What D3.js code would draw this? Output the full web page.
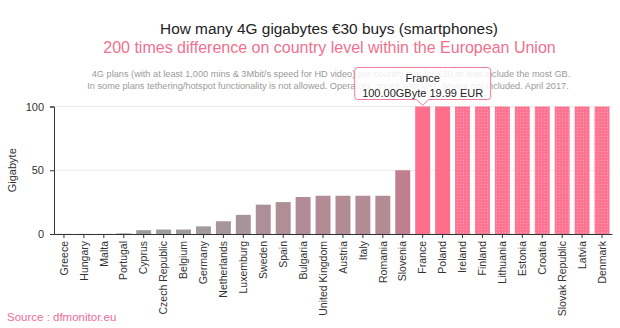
<!DOCTYPE html>
<html>
<head>
<meta charset="utf-8">
<script src="https://cdn.jsdelivr.net/npm/d3@7/dist/d3.min.js"></script>
<style>
  html, body { margin: 0; padding: 0; background: #fff; }
  svg { display: block; font-family: "Liberation Sans", Arial, sans-serif; }
</style>
</head>
<body>
<svg id="chart" width="620" height="328"></svg>
<script>
const countries = ["Greece","Hungary","Malta","Portugal","Cyprus","Czech Republic","Belgium","Germany","Netherlands","Luxemburg","Sweden","Spain","Bulgaria","United Kingdom","Austria","Italy","Romania","Slovenia","France","Poland","Ireland","Finland","Lithuania","Estonia","Croatia","Slovak Republic","Latvia","Denmark"];
const gigabytes = [0.1,0.1,0.1,0.5,3,3.5,3.5,6,10,15,23,25,29,30,30,30,30,50,100,100,100,100,100,100,100,100,100,100];
const dotted = ["Ireland","Finland","Lithuania","Estonia","Croatia","Slovak Republic","Latvia","Denmark"];
const yTicks = [0, 50, 100];
const tooltipCountry = "France";
const tooltipText = ["France", "100.00GByte 19.99 EUR"];
const title = "How many 4G gigabytes €30 buys (smartphones)";
const subtitle = "200 times difference on country level within the European Union";
const notes = [
  "4G plans (with at least 1,000 mins & 3Mbit/s speed for HD video) per country that for €30 or less include the most GB.",
  "In some plans tethering/hotspot functionality is not allowed. Operators' prices with VAT, device not included. April 2017."
];
const source = "Source : dfmonitor.eu";

const data = countries.map((c, i) => ({ country: c, value: gigabytes[i] }));

const svg = d3.select("#chart");
const plotL = 54, plotR = 612, plotT = 106.5, plotB = 234;

const x = d3.scaleBand().domain(countries).range([plotL, plotR]).paddingInner(0.25).paddingOuter(0.125);
const y = d3.scaleLinear().domain([0, 100]).range([plotB, plotT]);
const color = d3.scaleLinear().domain([0, 50, 100]).range(["#9e9c9e", "#bf7f8e", "#ff6f8c"]);

// pattern
const defs = svg.append("defs");
const pat = defs.append("pattern").attr("id", "dots").attr("patternUnits", "userSpaceOnUse")
  .attr("width", 3).attr("height", 3);
pat.append("rect").attr("width", 3).attr("height", 3).attr("fill", "#ff7290");
pat.append("circle").attr("cx", 1.5).attr("cy", 1.5).attr("r", 0.7).attr("fill", "rgba(255,180,198,0.6)");

// titles
svg.append("text").attr("x", 329).attr("y", 34).attr("text-anchor", "middle")
  .attr("font-size", 15.4).attr("fill", "#222").text(title);
svg.append("text").attr("x", 329.5).attr("y", 53).attr("text-anchor", "middle")
  .attr("font-size", 16).attr("fill", "#f0718f").text(subtitle);
const noteX = [331, 328];
notes.forEach((n, i) => {
  svg.append("text").attr("x", noteX[i]).attr("y", 77 + i * 12).attr("text-anchor", "middle")
    .attr("font-size", 9.2).attr("fill", "#9a9a9a").text(n);
});

// gridlines
svg.append("g").selectAll("line").data(yTicks.filter(d => d > 0)).join("line")
  .attr("x1", plotL).attr("x2", plotR)
  .attr("y1", d => y(d)).attr("y2", d => y(d))
  .attr("stroke", "#ebebeb").attr("stroke-width", 1);

// bars
svg.append("g").selectAll("rect").data(data).join("rect")
  .attr("x", d => x(d.country))
  .attr("width", x.bandwidth())
  .attr("y", d => y(d.value))
  .attr("height", d => y(0) - y(d.value))
  .attr("fill", d => dotted.includes(d.country) ? "url(#dots)" : color(d.value));

// y axis
const yAxis = svg.append("g").attr("transform", `translate(${plotL},0)`)
  .call(d3.axisLeft(y).tickValues(yTicks).tickSize(4).tickPadding(6));
yAxis.select(".domain").attr("stroke", "#333");
yAxis.selectAll(".tick line").attr("stroke", "#333");
yAxis.selectAll("text").attr("font-size", 11).attr("fill", "#333").attr("font-family", "Liberation Sans, Arial, sans-serif");

svg.append("text").attr("transform", `translate(16,${(plotT + plotB) / 2}) rotate(-90)`)
  .attr("text-anchor", "middle").attr("font-size", 11).attr("fill", "#333").text("Gigabyte");

// x axis
const xAxis = svg.append("g").attr("transform", `translate(0,${plotB})`)
  .call(d3.axisBottom(x).tickSize(4).tickSizeOuter(0));
xAxis.select(".domain").attr("stroke", "#333");
xAxis.selectAll(".tick line").attr("stroke", "#333");
xAxis.selectAll("text")
  .attr("font-size", 10.5).attr("fill", "#333").attr("font-family", "Liberation Sans, Arial, sans-serif")
  .attr("text-anchor", "end")
  .attr("transform", "rotate(-90)")
  .attr("x", -7).attr("y", 0).attr("dy", "0.35em");

// tooltip
const tx = x(tooltipCountry) + x.bandwidth() / 2;
const tipY = y(100) - 1;
const bw = 136, bh = 32;
const bx = tx - bw / 2, by = tipY - 6 - bh;
const tip = svg.append("g");
tip.append("path")
  .attr("d", `M${bx + 3},${by} H${bx + bw - 3} Q${bx + bw},${by} ${bx + bw},${by + 3} V${by + bh - 3} Q${bx + bw},${by + bh} ${bx + bw - 3},${by + bh} H${tx + 6} L${tx},${tipY} L${tx - 6},${by + bh} H${bx + 3} Q${bx},${by + bh} ${bx},${by + bh - 3} V${by + 3} Q${bx},${by} ${bx + 3},${by} Z`)
  .attr("fill", "rgba(255,255,255,0.82)").attr("stroke", "#f07b98").attr("stroke-width", 1);
tooltipText.forEach((t, i) => {
  tip.append("text").attr("x", tx).attr("y", by + 14 + i * 15).attr("text-anchor", "middle")
    .attr("font-size", 11).attr("fill", "#222").text(t);
});

// source
svg.append("text").attr("x", 7).attr("y", 321).attr("font-size", 11.5).attr("fill", "#ef6b9a").text(source);
</script>
</body>
</html>
